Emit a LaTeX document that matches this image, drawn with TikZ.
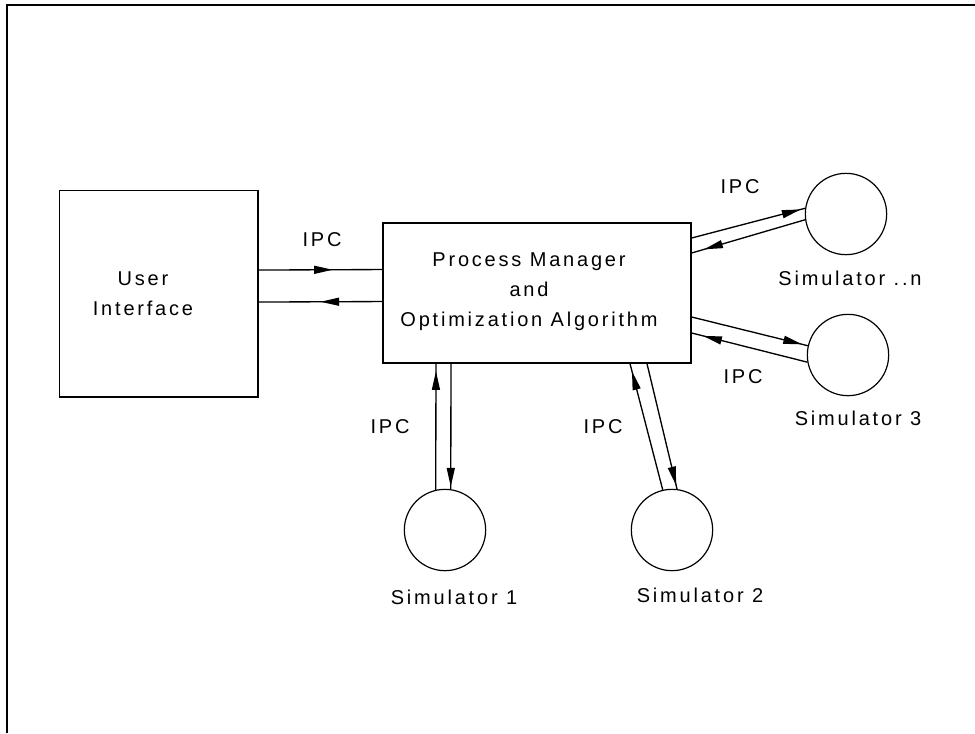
\documentclass[tikz,border=0pt]{standalone}
\usepackage{fontspec}
\newfontfamily\diagfont{Liberation Sans}[LetterSpace=14]
\usetikzlibrary{arrows.meta,decorations.markings}

\tikzset{
  box/.style={draw, line width=1pt, inner sep=0pt},
  sim/.style={circle, draw, line width=0.9pt, minimum size=61pt, inner sep=0pt},
  lbl/.style={font=\diagfont\fontsize{15}{22.5}\selectfont, align=center},
  flow/.style={line width=1pt, postaction={decorate},
    decoration={markings, mark=at position #1 with {\arrow{Triangle[length=14pt,width=6pt]}}}}
}

\begin{document}
\begin{tikzpicture}[x=0.75pt,y=-0.75pt]
\useasboundingbox (0,0) rectangle (975,733);
% open frame
\draw[line width=1.5pt] (7,733) -- (7,5) -- (975,5);

% main blocks
\node[box, minimum width=149pt, minimum height=155pt] (ui) at (158.5,293.5) {};
\node[lbl] (uitext) at (143,294) {User\\Interface};
\node[box, minimum width=231pt, minimum height=105pt] (pm) at (537,293) {};
\node[lbl] (pmtext) at (529,292) {Process Manager\\and\\Optimization Algorithm};

% simulators
\node[sim] (simn) at (846,214) {};
\node[sim] (sim3) at (848,355) {};
\node[sim] (sim1) at (445,530) {};
\node[sim] (sim2) at (672,530) {};
\node[lbl] (simnlabel) at (850,278) {Simulator ..n};
\node[lbl] (sim3label) at (858,418) {Simulator 3};
\node[lbl] (sim1label) at (454,597) {Simulator 1};
\node[lbl] (sim2label) at (700,595) {Simulator 2};

% IPC links
\draw[flow=0.6] ([yshift=17.6pt]ui.east) -- ([yshift=17.6pt]pm.west);
\draw[flow=0.5] ([yshift=-6.4pt]pm.west) -- ([yshift=-6.4pt]ui.east);
\node[lbl] (ipcui) at (322,240) {IPC};

\draw[flow=0.96] ([yshift=41.25pt]pm.east) -- (simn.172);
\draw[flow=0.89] (simn.188) -- ([yshift=30pt]pm.east);
\node[lbl] (ipcn) at (740,187) {IPC};

\draw[flow=0.95] ([yshift=-18pt]pm.east) -- (sim3.167);
\draw[flow=0.9] (sim3.190) -- ([yshift=-30pt]pm.east);
\node[lbl] (ipc3) at (743,377) {IPC};

\draw[flow=0.94] (sim1.103) -- ([xshift=-75.75pt]pm.south);
\draw[flow=0.98] ([xshift=-64.5pt]pm.south) -- (sim1.82);
\node[lbl] (ipc1) at (390,427) {IPC};

\draw[flow=0.94] (sim2.103) -- ([xshift=69.75pt]pm.south);
\draw[flow=0.97] ([xshift=82.5pt]pm.south) -- (sim2.83);
\node[lbl] (ipc2) at (603,427) {IPC};
\end{tikzpicture}
\end{document}
